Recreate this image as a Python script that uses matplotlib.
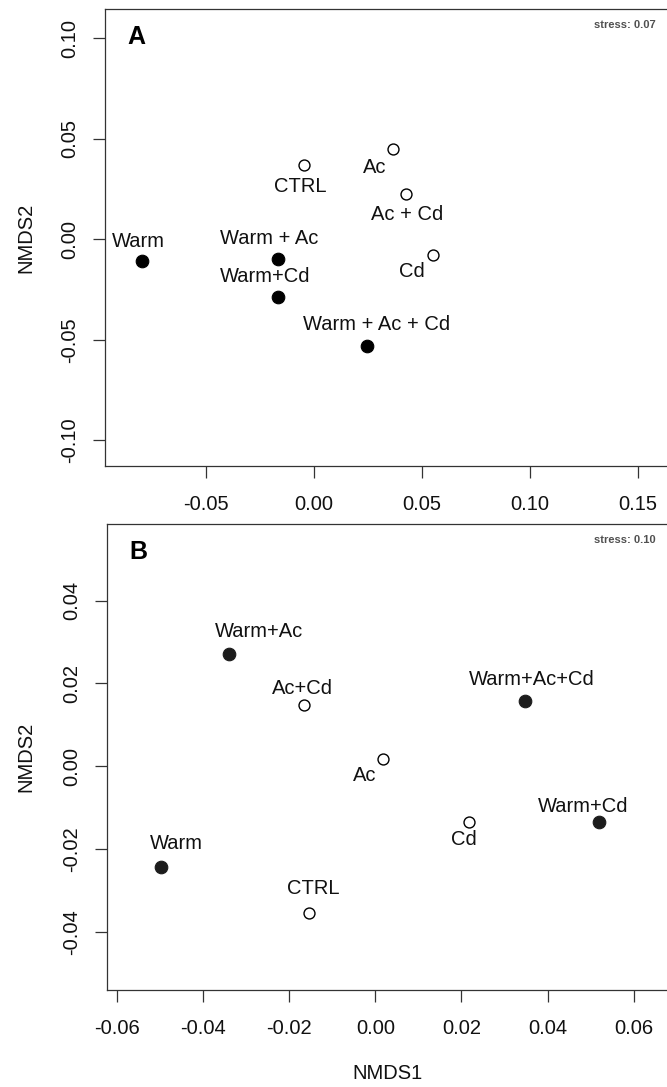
import matplotlib
matplotlib.use('Agg')
import matplotlib.pyplot as plt
from matplotlib.ticker import FormatStrFormatter

plt.rcParams['font.family'] = ['Liberation Sans', 'DejaVu Sans']
plt.rcParams['axes.unicode_minus'] = False

# NMDS scores
a_labels = ['Warm', 'Warm + Ac', 'Warm+Cd', 'Warm + Ac + Cd',
            'CTRL', 'Ac', 'Ac + Cd', 'Cd']
a_x = [-0.0798, -0.0169, -0.0169, 0.0244, -0.0049, 0.0368, 0.0428, 0.0552]
a_y = [-0.0108, -0.0098, -0.0287, -0.0532, 0.0371, 0.0448, 0.0226, -0.0080]
a_warm = [True, True, True, True, False, False, False, False]
a_stress = 'stress: 0.07'

b_labels = ['Warm+Ac', 'Ac+Cd', 'Warm+Ac+Cd', 'Ac',
            'Cd', 'Warm+Cd', 'Warm', 'CTRL']
b_x = [-0.0339, -0.0165, 0.0347, 0.0017, 0.0218, 0.0519, -0.0497, -0.0155]
b_y = [0.0272, 0.0147, 0.0158, 0.0017, -0.0135, -0.0135, -0.0244, -0.0355]
b_warm = [True, False, True, False, False, True, True, False]
b_stress = 'stress: 0.10'

a_xticks = [-0.05, 0.00, 0.05, 0.10, 0.15]
a_yticks = [-0.10, -0.05, 0.00, 0.05, 0.10]
b_xticks = [-0.06, -0.04, -0.02, 0.00, 0.02, 0.04, 0.06]
b_yticks = [-0.04, -0.02, 0.00, 0.02, 0.04]

# label offsets from each point, in pixels (style, not data)
a_off = [(-4, 19), (-9, 20), (-13, 20), (10, 22),
         (-3, -22), (-19, -18), (1, -21), (-21, -16)]
b_off = [(30, 22), (-2, 17), (7, 21), (-18, -16),
         (-5, -18), (-16, 15), (15, 24), (5, 25)]

W, H = 667, 1087
fig = plt.figure(figsize=(W / 100, H / 100), dpi=100)


def px_axes(left, top, right, bottom):
    return fig.add_axes([left / W, 1 - bottom / H,
                         (right - left) / W, (bottom - top) / H])


def nmds_panel(ax, xs, ys, warm, labels, offs, fill, letter, stress,
               xlim, ylim, xticks, yticks):
    for x, y, w, lab, (dx, dy) in zip(xs, ys, warm, labels, offs):
        if w:
            ax.scatter(x, y, s=82, facecolor=fill, edgecolor=fill,
                       linewidth=0.8, zorder=3)
        else:
            ax.scatter(x, y, s=62, facecolor='white', edgecolor='black',
                       linewidth=1.0, zorder=3)
        ax.annotate(lab, (x, y), xytext=(dx, dy), textcoords='offset pixels',
                    ha='center', va='center', fontsize=14.5, color='#111111')
    ax.set_xlim(xlim)
    ax.set_ylim(ylim)
    ax.set_xticks(xticks)
    ax.set_yticks(yticks)
    ax.xaxis.set_major_formatter(FormatStrFormatter('%.2f'))
    ax.yaxis.set_major_formatter(FormatStrFormatter('%.2f'))
    ax.tick_params(length=8.3, width=0.9, color='#333333', labelsize=14.5,
                   labelcolor='#111111')
    ax.tick_params(axis='x', pad=12.5)
    ax.tick_params(axis='y', pad=10, labelrotation=90)
    for t in ax.get_yticklabels():
        t.set_va('center')
    for sp in ax.spines.values():
        sp.set_color('#333333')
        sp.set_linewidth(0.9)
    ax.set_ylabel('NMDS2', fontsize=14.5, color='#111111')
    ax.text(0.04, 0.94, letter, transform=ax.transAxes, fontsize=18,
            fontweight='bold', ha='left', va='center')
    ax.text(0.977, 0.965, stress, transform=ax.transAxes, fontsize=8,
            fontweight='bold', color='#505050', ha='right', va='center')


axA = px_axes(105, 9.3, 669, 466)
nmds_panel(axA, a_x, a_y, a_warm, a_labels, a_off, 'black', 'A', a_stress,
           (-0.0970, 0.1646), (-0.1128, 0.1144), a_xticks, a_yticks)
axA.yaxis.set_label_coords(-0.1235, 0.5)

axB = px_axes(106.6, 524, 669, 990)
nmds_panel(axB, b_x, b_y, b_warm, b_labels, b_off, '#1c1c1c', 'B', b_stress,
           (-0.0624, 0.0682), (-0.0541, 0.0585), b_xticks, b_yticks)
axB.yaxis.set_label_coords(-0.1266, 0.5)
axB.set_xlabel('NMDS1', fontsize=14.5, color='#111111')
axB.xaxis.set_label_coords(0.5, -0.158)

fig.savefig('out.png', dpi=100)
